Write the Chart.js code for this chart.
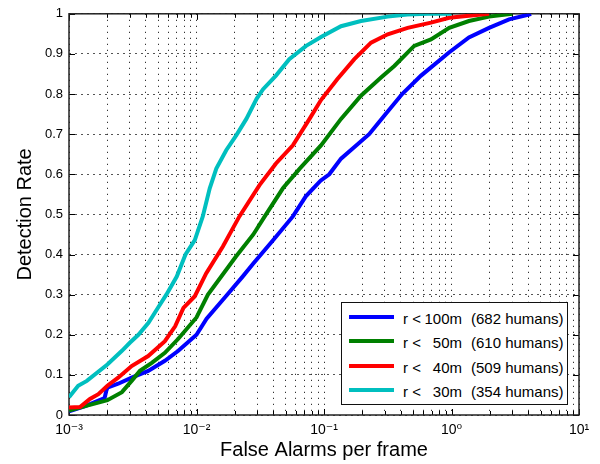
<!DOCTYPE html>
<html>
<head>
<meta charset="utf-8">
<script src="https://cdn.jsdelivr.net/npm/chart.js@4/dist/chart.umd.min.js"></script>
<style>
  html, body { margin: 0; padding: 0; background: #fff; }
  #wrap { position: relative; width: 600px; height: 464px; }
  #legend { position: absolute; left: 341px; top: 302px; width: 227px; height: 103px; box-sizing: border-box;
            border: 1.5px solid #111; background: #fff;
            font-family: 'Liberation Sans', Arial, Helvetica, sans-serif; font-size: 15px; color: #000; }
  .sw { position: absolute; left: 7px; width: 45px; height: 4px; }
  .t { position: absolute; height: 20px; line-height: 20px; white-space: pre; }
</style>
</head>
<body>
<div id="wrap">
  <canvas id="c" width="600" height="464"></canvas>
  <div id="legend"></div>
</div>
<script>
// ---- data ----
const ranges = ['100m', '50m', '40m', '30m'];
const humans = [682, 610, 509, 354];
const colors = ['#0000ff', '#008000', '#ff0000', '#00bfbf'];

const fa100 = [0.001,0.00134,0.0017,0.0019,0.00196,0.002,0.00243,0.0031,0.00418,0.00565,0.0072,0.01,0.012,0.0172,0.023,0.028,0.04,0.057,0.072,0.094,0.11,0.136,0.226,0.3,0.41,0.577,0.95,1.37,1.97,2.83,4.05,4.2];
const dr100 = [0.009,0.022,0.036,0.042,0.06,0.068,0.078,0.093,0.11,0.135,0.16,0.2,0.24,0.298,0.345,0.378,0.436,0.495,0.545,0.584,0.6,0.639,0.7,0.748,0.8,0.846,0.903,0.941,0.965,0.986,0.998,1.0];

const fa50 = [0.001,0.00134,0.002,0.0026,0.0031,0.0036,0.00446,0.00565,0.0072,0.01,0.0123,0.0204,0.0279,0.0343,0.0476,0.0645,0.0947,0.136,0.195,0.28,0.356,0.51,0.69,0.96,1.37,1.97,3.0];
const dr50 = [0.011,0.022,0.037,0.057,0.085,0.11,0.13,0.155,0.19,0.243,0.3,0.395,0.45,0.495,0.565,0.614,0.672,0.738,0.796,0.841,0.87,0.92,0.936,0.965,0.982,0.993,1.0];

const fa40 = [0.001,0.00122,0.00146,0.0017,0.002,0.00243,0.0031,0.00418,0.00565,0.0068,0.0079,0.0097,0.0119,0.0161,0.0217,0.0312,0.042,0.057,0.077,0.0947,0.127,0.173,0.234,0.316,0.453,0.69,0.96,1.37,1.97];
const dr40 = [0.019,0.02,0.04,0.052,0.073,0.093,0.122,0.147,0.184,0.221,0.267,0.296,0.353,0.42,0.495,0.573,0.627,0.672,0.738,0.785,0.837,0.887,0.928,0.949,0.965,0.978,0.99,0.995,1.0];

const fa30 = [0.001,0.00118,0.00138,0.002,0.0026,0.003,0.0035,0.0042,0.005,0.0058,0.007,0.0082,0.0097,0.0112,0.0127,0.0143,0.0171,0.0205,0.0246,0.0296,0.0333,0.042,0.0534,0.0724,0.0947,0.136,0.195,0.316,0.45,0.65,1.0];
const dr30 = [0.044,0.073,0.085,0.126,0.16,0.18,0.2,0.23,0.268,0.3,0.345,0.4,0.436,0.495,0.565,0.614,0.66,0.697,0.738,0.788,0.812,0.846,0.887,0.92,0.942,0.969,0.982,0.993,0.998,1.0,1.0];

const xDecades = [0.001, 0.01, 0.1, 1, 10];
const xTickLabels = ['10\u207B\u00B3', '10\u207B\u00B2', '10\u207B\u00B9', '10\u2070', '10\u00B9'];
const yTicks = [0, 0.1, 0.2, 0.3, 0.4, 0.5, 0.6, 0.7, 0.8, 0.9, 1];
const yTickLabels = ['0', '0.1', '0.2', '0.3', '0.4', '0.5', '0.6', '0.7', '0.8', '0.9', '1'];
const xTitle = 'False Alarms per frame';
const yTitle = 'Detection Rate';

// ---- build ----
const seriesX = [fa100, fa50, fa40, fa30];
const seriesY = [dr100, dr50, dr40, dr30];
const labels = ranges.map((r, i) => 'r < ' + r + '  (' + humans[i] + ' humans)');

const xTickValues = [];
xDecades.forEach((d, i) => {
  if (i === xDecades.length - 1) { xTickValues.push(d); return; }
  for (let m = 1; m <= 9; m++) xTickValues.push(d * m);
});

const FONT = "'Liberation Sans', Arial, Helvetica, 'DejaVu Sans', sans-serif";
Chart.defaults.font.family = FONT;
Chart.defaults.color = '#000';

const datasets = seriesX.map((xs, i) => ({
  label: labels[i],
  data: xs.map((x, j) => ({ x: x, y: seriesY[i][j] })),
  borderColor: colors[i],
  backgroundColor: colors[i],
  borderWidth: 4,
  pointRadius: 0,
  tension: 0,
  fill: false,
  order: 3 - i
}));

function isDecade(v) {
  const l = Math.log10(v);
  return Math.abs(l - Math.round(l)) < 1e-9;
}

const frame = {
  id: 'frame',
  beforeDatasetsDraw(chart) {
    const { ctx, chartArea: a, scales: { x, y } } = chart;
    ctx.save();
    ctx.strokeStyle = '#000';
    ctx.lineWidth = 1;
    ctx.beginPath();
    x.ticks.forEach(t => {
      const px = Math.round(x.getPixelForValue(t.value)) + 0.5;
      const len = isDecade(t.value) ? 6 : 4;
      ctx.moveTo(px, a.bottom); ctx.lineTo(px, a.bottom - len);
      ctx.moveTo(px, a.top); ctx.lineTo(px, a.top + len);
    });
    y.ticks.forEach(t => {
      const py = Math.round(y.getPixelForValue(t.value)) + 0.5;
      ctx.moveTo(a.left, py); ctx.lineTo(a.left + 6, py);
      ctx.moveTo(a.right, py); ctx.lineTo(a.right - 6, py);
    });
    ctx.stroke();
    ctx.lineWidth = 1.5;
    ctx.strokeStyle = '#222';
    ctx.strokeRect(a.left, a.top, a.right - a.left, a.bottom - a.top);
    ctx.restore();
  }
};

new Chart(document.getElementById('c'), {
  type: 'line',
  data: { datasets: datasets },
  options: {
    responsive: false,
    devicePixelRatio: 1,
    animation: false,
    layout: { padding: { left: 0, top: 11, right: 21, bottom: 0 } },
    plugins: { legend: { display: false }, tooltip: { enabled: false } },
    scales: {
      x: {
        type: 'logarithmic',
        min: 0.001, max: 10,
        afterBuildTicks: (s) => { s.ticks = xTickValues.map(v => ({ value: v })); },
        afterFit: (s) => { s.height = 49; },
        ticks: {
          autoSkip: false, maxRotation: 0, minRotation: 0, padding: 7,
          font: { size: 14 }, color: '#000',
          callback: (v) => isDecade(v) ? xTickLabels[xDecades.findIndex(d => Math.abs(Math.log10(d) - Math.log10(v)) < 1e-9)] : ''
        },
        grid: { color: '#000', lineWidth: 1, drawTicks: false },
        border: { display: false, dash: [1, 5] },
        title: { display: true, text: xTitle, font: { size: 20 }, color: '#000', padding: { top: 0, bottom: 2 } }
      },
      y: {
        type: 'linear',
        min: 0, max: 1,
        afterBuildTicks: (s) => { s.ticks = yTicks.map(v => ({ value: v })); },
        afterFit: (s) => { s.width = 69; },
        ticks: {
          autoSkip: false, padding: 6, font: { size: 13 }, color: '#000',
          callback: (v, i) => yTickLabels[i]
        },
        grid: { color: '#555', lineWidth: 1, drawTicks: false },
        border: { display: false, dash: [2, 4] },
        title: { display: true, text: yTitle, font: { size: 20 }, color: '#000', padding: { top: 13, bottom: 0 } }
      }
    }
  },
  plugins: [frame]
});

// HTML legend built from the dataset arrays
const lg = document.getElementById('legend');
const rowTop = [12, 36.3, 60.7, 85.3];
labels.forEach((lab, i) => {
  const sw = document.createElement('div');
  sw.className = 'sw';
  sw.style.top = rowTop[i] + 'px';
  sw.style.background = colors[i];
  lg.appendChild(sw);
  const cy = rowTop[i] + 2 + 2;
  const a = document.createElement('span'); a.className = 't'; a.textContent = 'r <';
  a.style.left = '61px'; a.style.top = (cy - 10) + 'px';
  const b = document.createElement('span'); b.className = 't'; b.textContent = ranges[i];
  b.style.left = '79px'; b.style.width = '41px'; b.style.textAlign = 'right'; b.style.top = (cy - 10) + 'px';
  const c = document.createElement('span'); c.className = 't'; c.textContent = '(' + humans[i] + ' humans)';
  c.style.left = '129px'; c.style.top = (cy - 10) + 'px';
  lg.appendChild(a); lg.appendChild(b); lg.appendChild(c);
});
</script>
</body>
</html>
